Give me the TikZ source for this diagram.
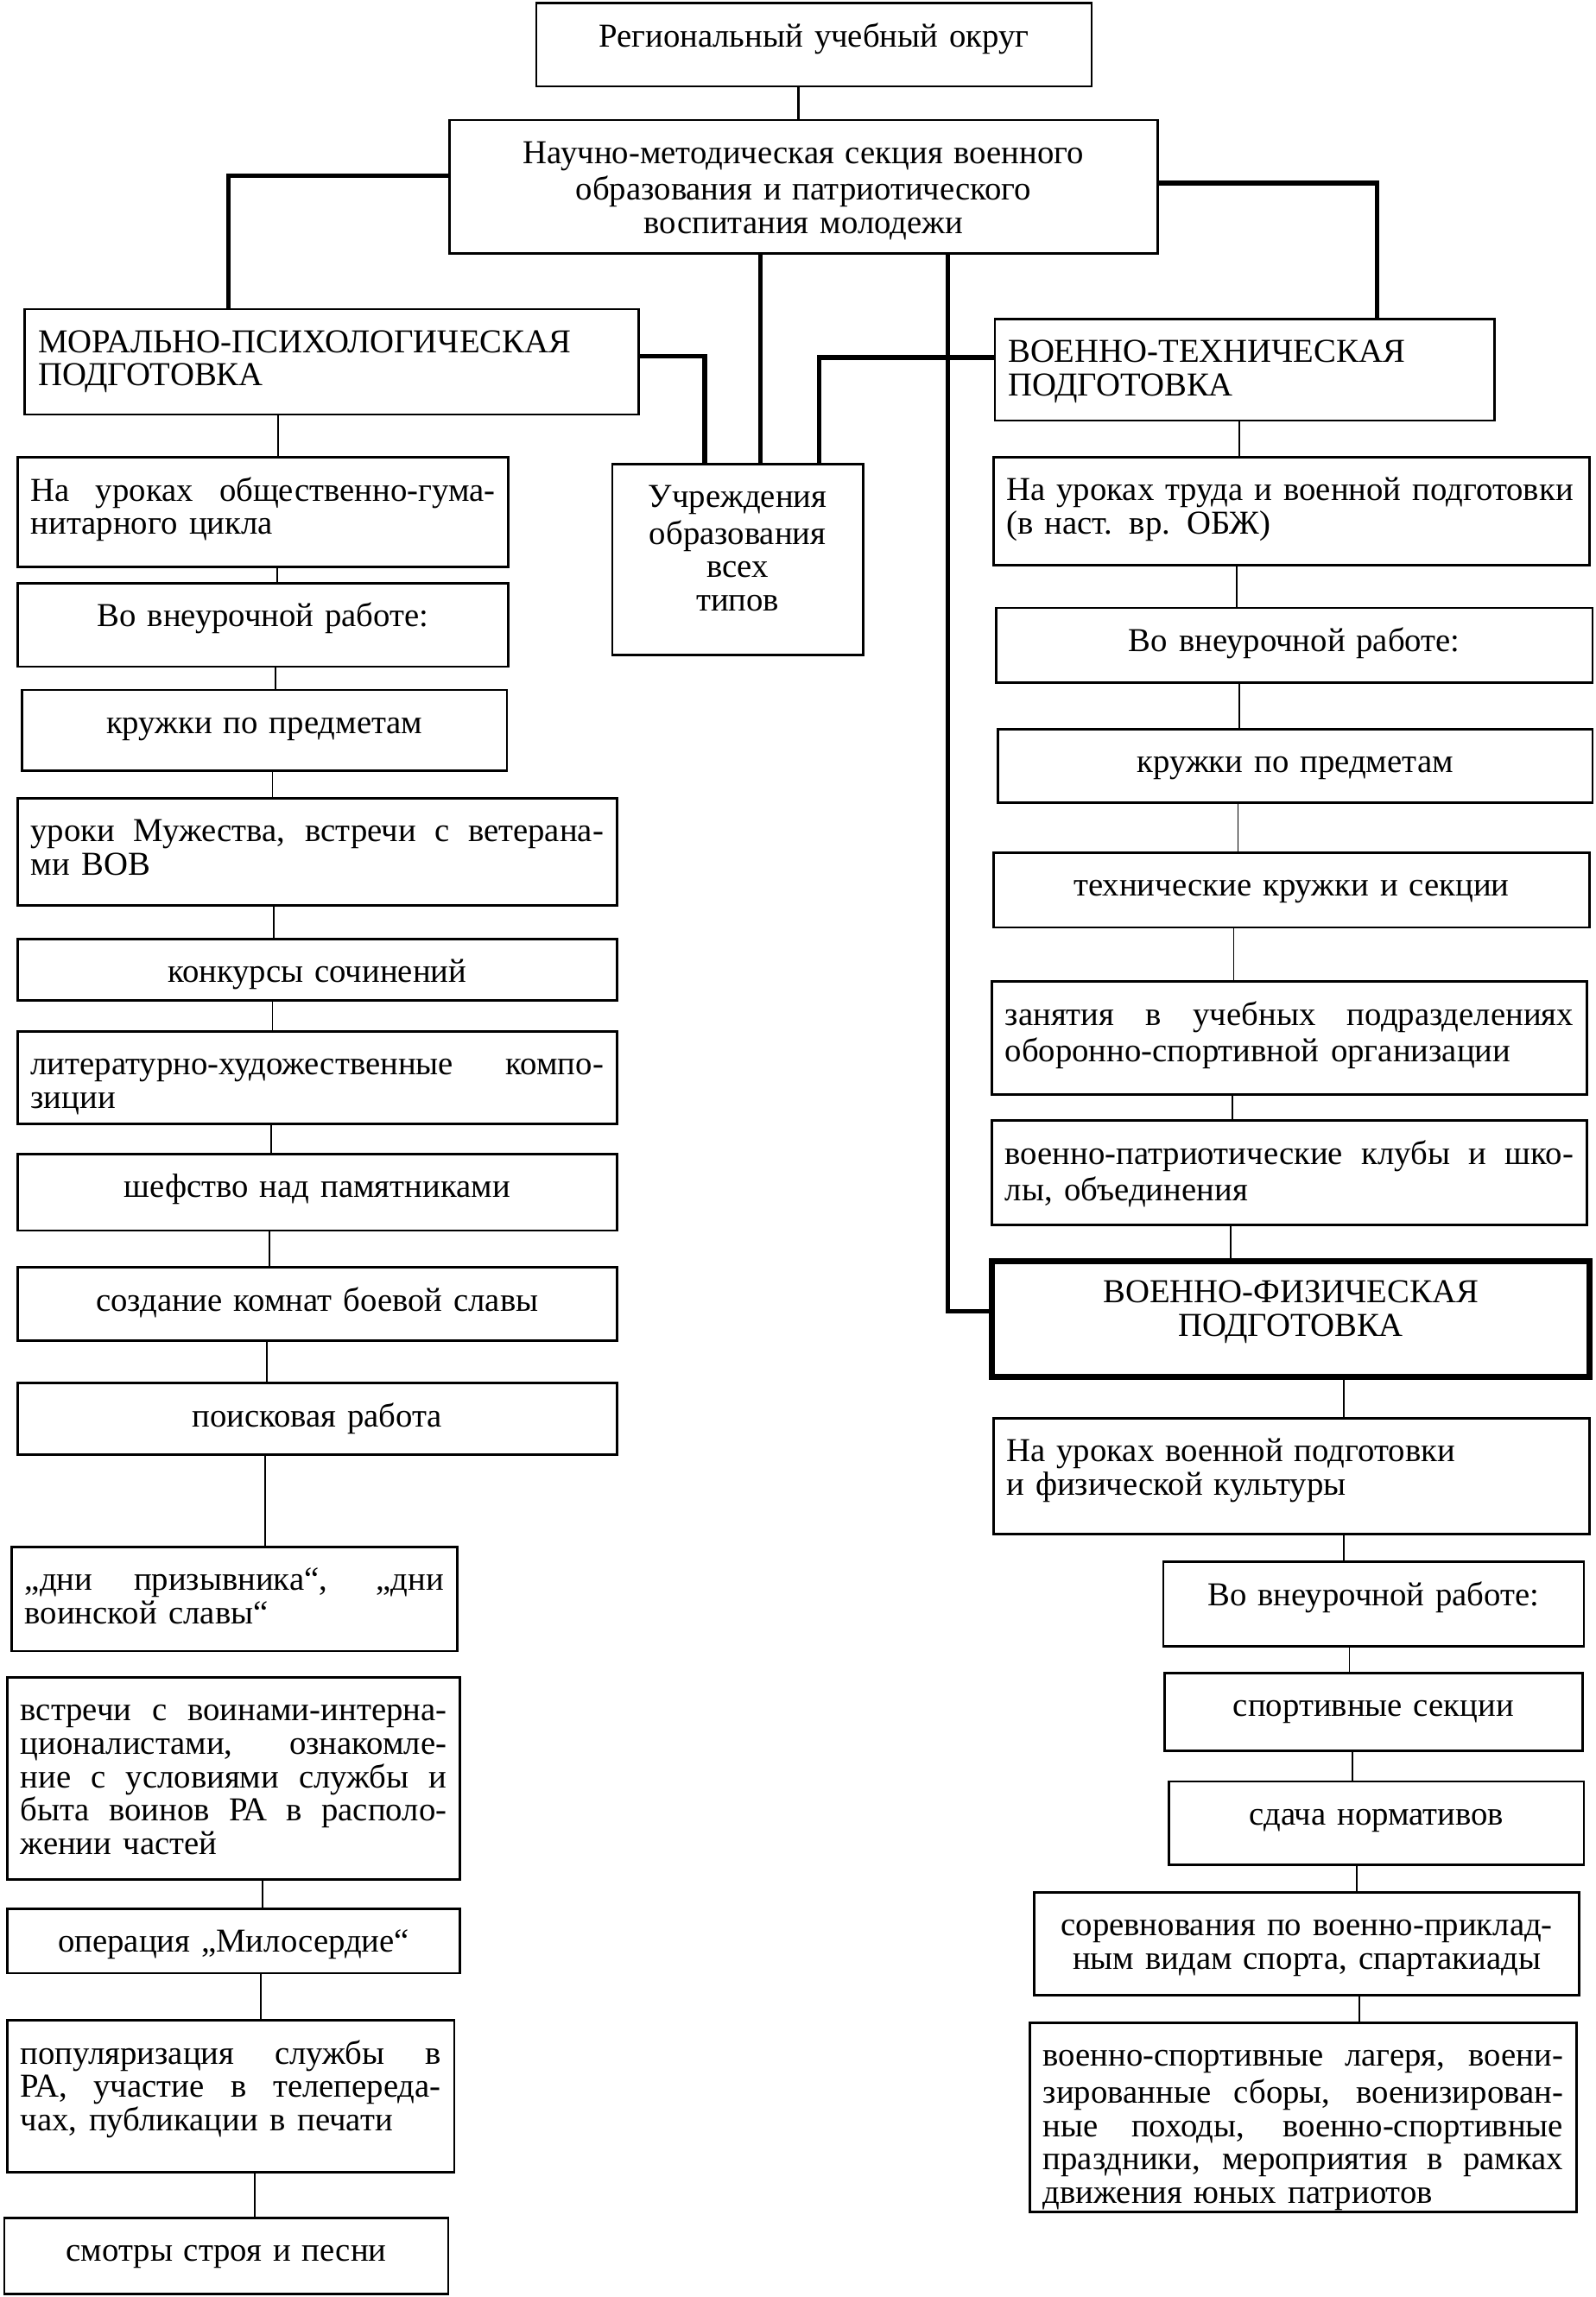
\documentclass[tikz,border=0pt]{standalone}
\usepackage{fontspec}
\setmainfont{Liberation Serif}[WordSpace=1.4]
\usetikzlibrary{fit,calc}

\tolerance=10000
\hyphenpenalty=10000

\tikzset{
	box/.style={draw, line width=0.9pt, inner sep=0pt},
	boldbox/.style={box, line width=2.2pt},
	txt/.style={inner sep=0pt, font=\fontsize{13}{13}\selectfont},
	txtmid/.style={txt, align=center},
	txtleft/.style={txt, align=left},
	txtjust/.style={txt, align=justify},
	link/.style={line width=0.6pt},
	stem/.style={line width=1.1pt},
	branch/.style={line width=1.8pt}
}

% box from (x1,y1) to (x2,y2), text hung from its top edge
\newcommand{\cell}[8][box]{%
	\node[#1, fit={(#4,#5) (#6,#7)}] (#2) {};
	\pgfmathsetlengthmacro{\cellw}{(#6-#4-18)*0.02cm}%
	\node[#3, text width=\cellw, anchor=north] (#2-txt) at ($(#2.north)+(0,14)$) {\strut #8};
}

\begin{document}
\begin{tikzpicture}[x=0.02cm, y=-0.02cm]

\path[fill=white] (0,0) rectangle (1089,1568);

% head
\cell{top}{txtmid}{366}{2}{745}{59}{Региональный учебный округ}
\cell{nms}{txtmid}{307}{82}{790}{173}{Научно-методическая секция военного\\образования и патриотического\\воспитания молодежи}

\cell{mp}{txtleft}{17}{211}{436}{283}{МОРАЛЬНО-ПСИХОЛОГИЧЕСКАЯ\\ПОДГОТОВКА}
\cell{vt}{txtleft}{679}{218}{1020}{287}{ВОЕННО-ТЕХНИЧЕСКАЯ\\ПОДГОТОВКА}
\cell{uchr}{txtmid}{418}{317}{589}{447}{Учреждения\\образования\\всех\\типов}

% left column
\cell{l1}{txtjust}{12}{312}{347}{387}{На уроках общественно-гума-\linebreak нитарного цикла}
\cell{l2}{txtmid}{12}{398}{347}{455}{Во внеурочной работе:}
\cell{l3}{txtmid}{15}{471}{346}{526}{кружки по предметам}
\cell{l4}{txtjust}{12}{545}{421}{618}{уроки Мужества, встречи с ветерана-\linebreak ми ВОВ}
\cell{l5}{txtmid}{12}{641}{421}{683}{конкурсы сочинений}
\cell{l6}{txtjust}{12}{704}{421}{767}{литературно-художественные компо-\linebreak зиции}
\cell{l7}{txtmid}{12}{788}{421}{840}{шефство над памятниками}
\cell{l8}{txtmid}{12}{865}{421}{915}{создание комнат боевой славы}
\cell{l9}{txtmid}{12}{944}{421}{993}{поисковая работа}
\cell{l10}{txtjust}{8}{1056}{312}{1127}{„дни призывника“, „дни\linebreak воинской славы“}
\cell{l11}{txtjust}{5}{1145}{314}{1283}{встречи с воинами-интерна-\linebreak ционалистами, ознакомле-\linebreak ние с условиями службы и\linebreak быта воинов РА в располо-\linebreak жении частей}
\cell{l12}{txtmid}{5}{1303}{314}{1347}{операция „Милосердие“}
\cell{l13}{txtjust}{5}{1379}{310}{1483}{популяризация службы в\linebreak РА, участие в телепереда-\linebreak чах, публикации в печати}
\cell{l14}{txtmid}{3}{1514}{306}{1566}{смотры строя и песни}

% right column
\cell{r1}{txtleft}{678}{312}{1085}{386}{На уроках труда и военной подготовки\\(в наст. вр. ОБЖ)}
\cell{r2}{txtmid}{680}{415}{1087}{466}{Во внеурочной работе:}
\cell{r3}{txtmid}{681}{498}{1087}{548}{кружки по предметам}
\cell{r4}{txtmid}{678}{582}{1085}{633}{технические кружки и секции}
\cell{r5}{txtjust}{677}{670}{1083}{747}{занятия в учебных подразделениях\linebreak оборонно-спортивной организации}
\cell{r6}{txtjust}{677}{765}{1083}{836}{военно-патриотические клубы и шко-\linebreak лы, объединения}

\cell[boldbox]{vf}{txtmid}{677}{861}{1085}{940}{ВОЕННО-ФИЗИЧЕСКАЯ\\ПОДГОТОВКА}
\cell{f1}{txtleft}{678}{968}{1085}{1047}{На уроках военной подготовки\\и физической культуры}
\cell{f2}{txtmid}{794}{1066}{1081}{1124}{Во внеурочной работе:}
\cell{f3}{txtmid}{795}{1142}{1080}{1195}{спортивные секции}
\cell{f4}{txtmid}{798}{1216}{1081}{1273}{сдача нормативов}
\cell{f5}{txtmid}{706}{1292}{1078}{1362}{соревнования по военно-приклад-\\ным видам спорта, спартакиады}
\cell{f6}{txtjust}{703}{1381}{1076}{1510}{военно-спортивные лагеря, воени-\linebreak зированные сборы, военизирован-\linebreak ные походы, военно-спортивные\linebreak праздники, мероприятия в рамках\linebreak движения юных патриотов}

% main branches
\draw[stem] (top.south -| 545,0) -- (nms.north -| 545,0);
\draw[branch] (nms.west |- 0,120) -| (mp.north -| 156,0);
\draw[branch] (nms.east |- 0,125) -| (vt.north -| 940,0);
\draw[branch] (mp.east |- 0,243) -| (uchr.north -| 481,0);
\draw[branch] (nms.south -| 519,0) -- (uchr.north -| 519,0);
\draw[branch] (vt.west |- 0,244) -| (uchr.north -| 559,0);
\draw[branch] (nms.south -| 647,0) |- (vf.west |- 0,895);

% thin links down the columns
\foreach \a/\b/\x in {mp/l1/190, l1/l2/189, l2/l3/188, l3/l4/186, l4/l5/187, l5/l6/186,
	l6/l7/185, l7/l8/184, l8/l9/182, l9/l10/181, l11/l12/179, l12/l13/178, l13/l14/174,
	vt/r1/846, r1/r2/844, r2/r3/846, r3/r4/845, r4/r5/842, r5/r6/841, r6/vf/840,
	vf/f1/917, f1/f2/917, f2/f3/921, f3/f4/923, f4/f5/926, f5/f6/928}
{
	\draw[link] (\a.south -| \x,0) -- (\b.north -| \x,0);
}

\end{tikzpicture}
\end{document}
